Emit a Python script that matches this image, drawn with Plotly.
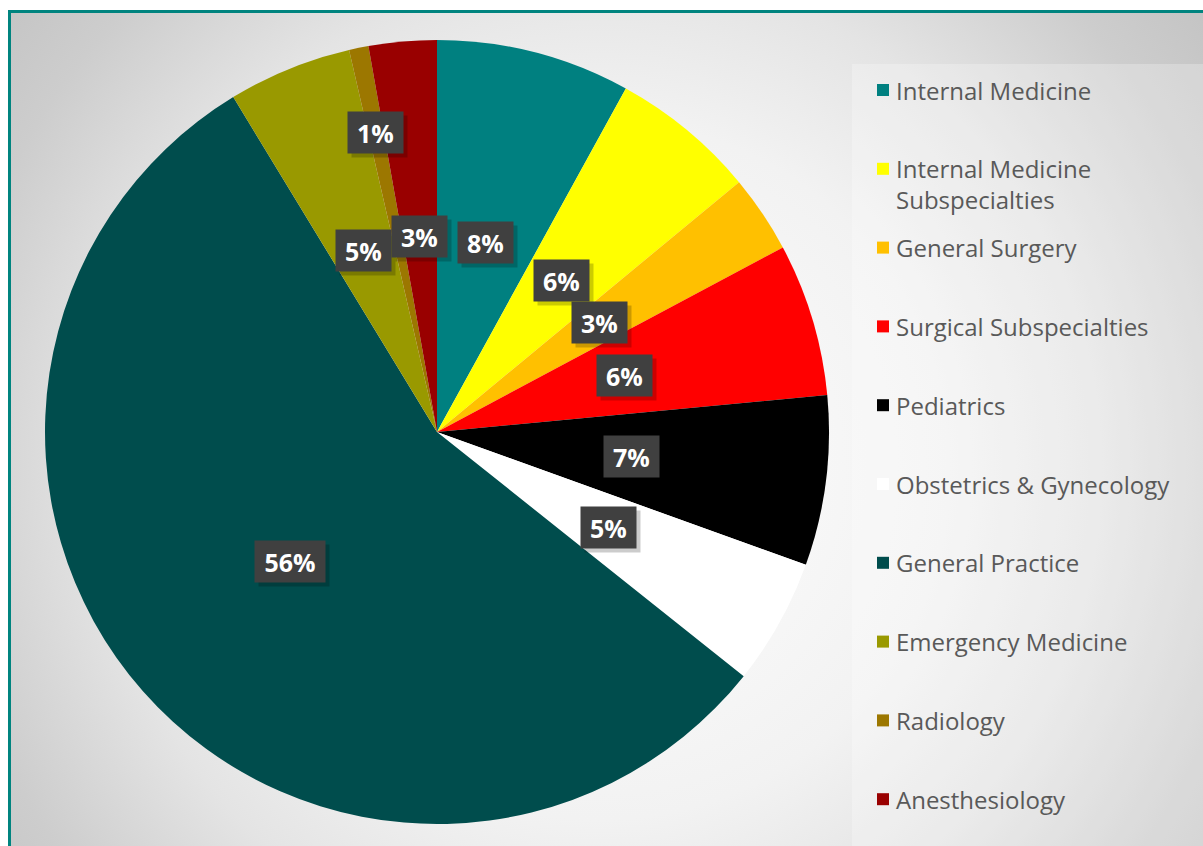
import base64
import math
import plotly.graph_objects as go

# ---- data ---------------------------------------------------------------
specialties = [
    "Internal Medicine",
    "Internal Medicine Subspecialties",
    "General Surgery",
    "Surgical Subspecialties",
    "Pediatrics",
    "Obstetrics & Gynecology",
    "General Practice",
    "Emergency Medicine",
    "Radiology",
    "Anesthesiology",
]
shares = [8.0, 6.0, 3.2, 6.3, 7.0, 5.2, 55.6, 5.1, 0.8, 2.8]
legend_text = [
    "Internal Medicine",
    "Internal Medicine<br>Subspecialties",
    "General Surgery",
    "Surgical Subspecialties",
    "Pediatrics",
    "Obstetrics & Gynecology",
    "General Practice",
    "Emergency Medicine",
    "Radiology",
    "Anesthesiology",
]

# ---- styling ------------------------------------------------------------
colors = ["#008080", "#FFFF00", "#FFC000", "#FF0000", "#000000",
          "#FFFFFF", "#004D4D", "#999900", "#9C7700", "#990000"]
W, H = 1203, 846
CX, CY, R = 437, 432, 392          # pie centre / radius in pixels
FONT = "Open Sans"
TEXT_GREY = "#595959"
label_radius = {"Radiology": 0.78}  # labels pushed out of thin slices

def px_to_paper(x, y):
    return x / W, 1 - y / H

# background: radial grey gradient, light legend panel, teal frame
svg = f'''<svg xmlns="http://www.w3.org/2000/svg" width="{W}" height="{H}" viewBox="0 0 {W} {H}">
<defs>
<radialGradient id="bg" gradientUnits="userSpaceOnUse" cx="600" cy="470" r="760">
<stop offset="0" stop-color="#ffffff"/>
<stop offset="0.46" stop-color="#f2f2f2"/>
<stop offset="0.66" stop-color="#e4e4e4"/>
<stop offset="0.87" stop-color="#cdcdcd"/>
<stop offset="1" stop-color="#c4c4c4"/>
</radialGradient>
</defs>
<rect width="{W}" height="{H}" fill="#ffffff"/>
<rect x="8" y="10" width="{W}" height="{H}" fill="url(#bg)"/>
<rect x="852" y="64" width="{W}" height="{H}" fill="#ffffff" fill-opacity="0.25"/>
<path d="M 9.5 {H} V 11.5 H {W}" stroke="#00847F" stroke-width="3" fill="none"/>
</svg>'''
bg_uri = "data:image/svg+xml;base64," + base64.b64encode(svg.encode()).decode()

fig = go.Figure()
fig.add_trace(go.Pie(
    labels=specialties,
    values=shares,
    sort=False,
    direction="clockwise",
    rotation=0,
    marker=dict(colors=colors, line=dict(width=0)),
    textinfo="none",
    hovertemplate="%{label}: %{percent:.0%}<extra></extra>",
    showlegend=False,
    domain=dict(x=[(CX - R) / W, (CX + R) / W],
                y=[1 - (CY + R) / H, 1 - (CY - R) / H]),
))

annotations = []
shapes = []

# percentage labels at each slice's mid-angle
total = sum(shares)
cum = 0.0
for name, v in zip(specialties, shares):
    mid = (cum + v / 2) / total * 2 * math.pi
    cum += v
    rf = label_radius.get(name, 0.5)
    lx = CX + rf * R * math.sin(mid)
    ly = CY - rf * R * math.cos(mid)
    xp, yp = px_to_paper(lx, ly)
    txt = f"{v / total:.0%}"
    bw = 55 if len(txt) <= 2 else 70
    common = dict(x=xp, y=yp, xref="paper", yref="paper", showarrow=False,
                  xanchor="center", yanchor="middle",
                  width=bw, height=41, borderpad=0)
    # soft drop shadow
    annotations.append(dict(common, text=" ", bgcolor="rgba(0,0,0,0.2)",
                            xshift=4, yshift=-4))
    annotations.append(dict(common, text=f"<b>{txt}</b>", bgcolor="#404040",
                            font=dict(family=FONT, size=25, color="#FFFFFF")))

# legend column
LEG_SQ_X, LEG_TX_X, LEG_Y0, LEG_DY = 877, 894, 90, 78.8
for i, (txt, c) in enumerate(zip(legend_text, colors)):
    yc = LEG_Y0 + i * LEG_DY
    lines = txt.count("<br>") + 1
    ty = yc + (lines - 1) * 15
    xp, yp = px_to_paper(LEG_TX_X, ty)
    annotations.append(dict(
        x=xp, y=yp, xref="paper", yref="paper", showarrow=False,
        xanchor="left", yanchor="middle", align="left",
        text=txt, font=dict(family=FONT, size=24, color=TEXT_GREY),
    ))
    x0, y0 = px_to_paper(LEG_SQ_X, yc - 6)
    x1, y1 = px_to_paper(LEG_SQ_X + 12, yc + 6)
    shapes.append(dict(type="rect", xref="paper", yref="paper",
                       x0=x0, x1=x1, y0=y1, y1=y0,
                       fillcolor=c, line=dict(width=0)))

fig.update_layout(
    width=W, height=H,
    margin=dict(l=0, r=0, t=0, b=0),
    paper_bgcolor="#FFFFFF",
    plot_bgcolor="rgba(0,0,0,0)",
    images=[dict(source=bg_uri, xref="paper", yref="paper",
                 x=0, y=1, sizex=1, sizey=1, xanchor="left", yanchor="top",
                 sizing="stretch", layer="below")],
    annotations=annotations,
    shapes=shapes,
)

fig.write_html("out.html")
